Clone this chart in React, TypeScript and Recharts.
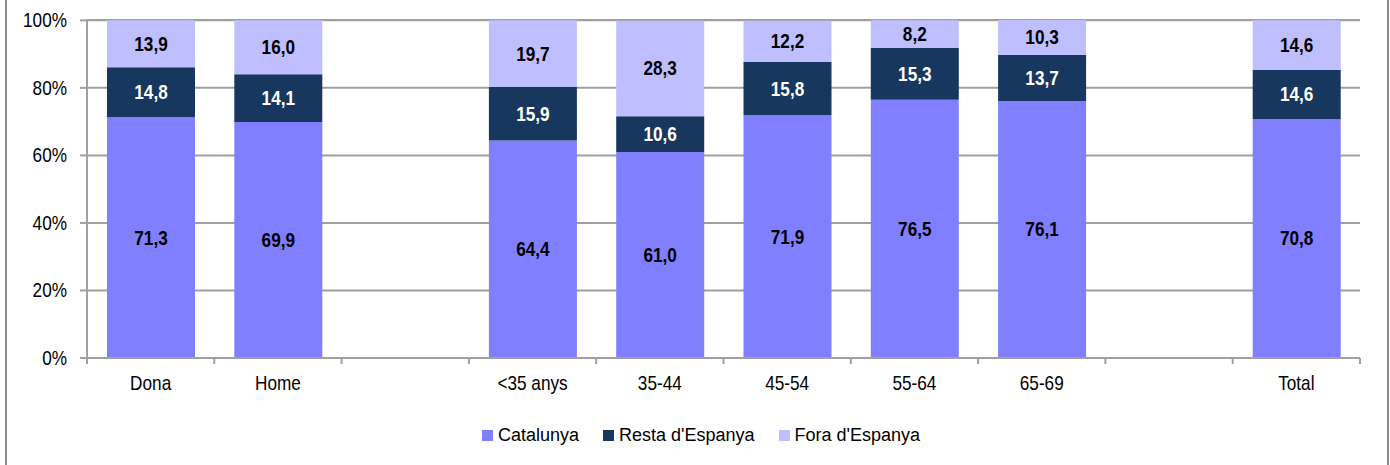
import { Bar, BarChart, CartesianGrid, LabelList, Legend, XAxis, YAxis } from "recharts";

const categories = ["Dona", "Home", "", "<35 anys", "35-44", "45-54", "55-64", "65-69", "", "Total"];
const catalunya = [71.3, 69.9, null, 64.4, 61.0, 71.9, 76.5, 76.1, null, 70.8];
const restaEspanya = [14.8, 14.1, null, 15.9, 10.6, 15.8, 15.3, 13.7, null, 14.6];
const foraEspanya = [13.9, 16.0, null, 19.7, 28.3, 12.2, 8.2, 10.3, null, 14.6];
const yTicks = [0, 20, 40, 60, 80, 100];

const series = [
  { key: "catalunya", name: "Catalunya", color: "#7f7fff", labelColor: "#000000" },
  { key: "resta", name: "Resta d'Espanya", color: "#17375e", labelColor: "#ffffff" },
  { key: "fora", name: "Fora d'Espanya", color: "#bfbfff", labelColor: "#000000" }
];

const data = categories.map((category, i) => ({
  category,
  catalunya: catalunya[i],
  resta: restaEspanya[i],
  fora: foraEspanya[i]
}));

const font = "'Liberation Sans', Arial, sans-serif";
const axisGray = "#a0a0a0";
const squeeze = 0.86; // no Arial Narrow installed, so squeeze Liberation Sans

const formatValue = (value: unknown) =>
  value == null ? "" : Number(value).toFixed(1).replace(".", ",");

// text drawn narrower, anchored at (x, y)
function NarrowText({ x, y, anchor, fill = "#000", bold = false, children }: any) {
  return (
    <text
      transform={`translate(${x},${y}) scale(${squeeze},1)`}
      textAnchor={anchor}
      dominantBaseline="central"
      fill={fill}
      fontSize={20}
      fontWeight={bold ? "bold" : "normal"}
      fontFamily={font}
    >
      {children}
    </text>
  );
}

function CategoryTick(props: any) {
  const { x, y, payload, index } = props;
  const half = payload.offset ?? 0;
  const isLast = index === categories.length - 1;
  return (
    <g>
      <line x1={x - half} x2={x - half} y1={y - 8} y2={y - 2} stroke={axisGray} strokeWidth={2} />
      {isLast ? (
        <line x1={x + half} x2={x + half} y1={y - 8} y2={y - 2} stroke={axisGray} strokeWidth={2} />
      ) : null}
      <NarrowText x={x} y={y + 17} anchor="middle">
        {payload.value}
      </NarrowText>
    </g>
  );
}

function PercentTick(props: any) {
  const { x, y, payload } = props;
  return (
    <NarrowText x={x} y={y} anchor="end">
      {`${payload.value}%`}
    </NarrowText>
  );
}

function segmentLabel(color: string) {
  return (props: any) => {
    const { x, y, width, height, value } = props;
    if (value == null) return null;
    return (
      <NarrowText x={x + width / 2} y={y + height / 2} anchor="middle" fill={color} bold>
        {formatValue(value)}
      </NarrowText>
    );
  };
}

function ChartLegend() {
  return (
    <div style={{ display: "flex", justifyContent: "center", gap: 24, height: 24, alignItems: "center", fontFamily: font, fontSize: 18, color: "#000" }}>
      {series.map((s) => (
        <div key={s.key} style={{ display: "flex", alignItems: "center", gap: 5 }}>
          <span style={{ width: 11, height: 11, background: s.color, display: "inline-block" }} />
          {s.name}
        </div>
      ))}
    </div>
  );
}

export default function App() {
  return (
    <div style={{ position: "fixed", left: 0, top: 0, width: 1390, height: 465, background: "#fff" }}>
      <div style={{ position: "absolute", left: 5, top: 0, bottom: 0, width: 2, background: "#8c8c8c" }} />
      <div style={{ position: "absolute", left: 1387, top: 0, bottom: 0, width: 2, background: "#8c8c8c" }} />
      <BarChart
        width={1390}
        height={465}
        data={data}
        margin={{ top: 20, right: 30, bottom: 53, left: 0 }}
        barSize={88}
      >
        <CartesianGrid stroke={axisGray} strokeWidth={2} vertical={false} />
        <XAxis
          dataKey="category"
          height={30}
          axisLine={{ stroke: axisGray, strokeWidth: 2 }}
          tickLine={false}
          tick={<CategoryTick />}
          interval={0}
        />
        <YAxis
          width={87}
          domain={[0, 100]}
          ticks={yTicks}
          axisLine={{ stroke: axisGray, strokeWidth: 2 }}
          tickLine={{ stroke: axisGray, strokeWidth: 2 }}
          tickSize={7}
          tickMargin={13}
          tick={<PercentTick />}
        />
        <Legend
          verticalAlign="bottom"
          content={<ChartLegend />}
          wrapperStyle={{ bottom: 18, left: 12, width: 1378 }}
        />
        {series.map((s) => (
          <Bar key={s.key} dataKey={s.key} name={s.name} stackId="a" fill={s.color} isAnimationActive={false}>
            <LabelList dataKey={s.key} content={segmentLabel(s.labelColor)} />
          </Bar>
        ))}
      </BarChart>
    </div>
  );
}
